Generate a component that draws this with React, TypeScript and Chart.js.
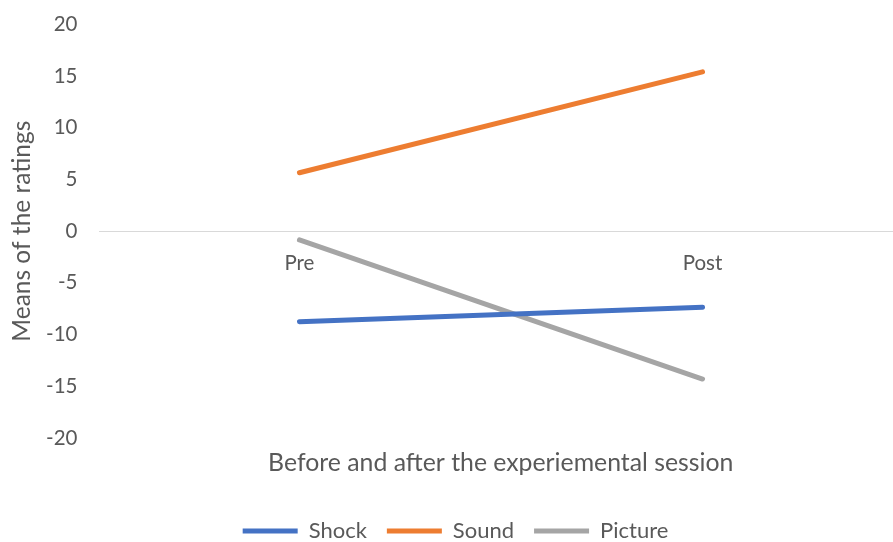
import React, { useEffect, useRef } from "react";
import { Chart, registerables } from "chart.js";

Chart.register(...registerables);

const categories = ["Pre", "Post"];
const shock = [-8.75, -7.35];
const sound = [5.65, 15.4];
const picture = [-0.85, -14.3];
const yTicks = [-20, -15, -10, -5, 0, 5, 10, 15, 20];
const xTitle = "Before and after the experiemental session";
const yTitle = "Means of the ratings";

const FONT = "Lato, 'Open Sans', sans-serif";
const TXT = "#595959";
const CW = 893;
const CH = 562;

const xTitlePlugin = {
  id: "xTitlePlugin",
  afterDraw(chart: any) {
    const { ctx, chartArea } = chart;
    ctx.save();
    ctx.font = `24.8px ${FONT}`;
    ctx.fillStyle = TXT;
    ctx.textAlign = "center";
    ctx.textBaseline = "middle";
    ctx.fillText(xTitle, (chartArea.left + chartArea.right) / 2 + 5, chartArea.bottom + 25);
    ctx.restore();
  },
};

export default function App() {
  const ref = useRef<HTMLCanvasElement | null>(null);
  useEffect(() => {
    if (!ref.current) return;
    const mk = (vals: number[]) => vals.map((v, i) => ({ x: i, y: v }));
    const ds = (label: string, vals: number[], color: string) => ({
      label,
      data: mk(vals),
      borderColor: color,
      backgroundColor: color,
      borderWidth: 5,
      borderCapStyle: "round",
      pointRadius: 0,
      tension: 0,
    });
    const chart = new Chart(ref.current, {
      type: "line",
      data: {
        datasets: [
          ds("Shock", shock, "#4472C4"),
          ds("Sound", sound, "#ED7D31"),
          ds("Picture", picture, "#A5A5A5"),
        ] as any,
      },
      plugins: [xTitlePlugin],
      options: {
        animation: false,
        responsive: false,
        maintainAspectRatio: false,
        layout: { padding: { top: 3, right: CW - 892, left: 19, bottom: 0 } },
        plugins: {
          tooltip: { enabled: false },
          legend: {
            position: "bottom",
            title: {
              display: true,
              text: " ",
              font: { size: 10, family: FONT },
              padding: { top: 0, bottom: 50 },
            },
            labels: {
              usePointStyle: true,
              pointStyle: "line",
              pointStyleWidth: 55,
              font: { size: 22, family: FONT },
              color: TXT,
              padding: 20,
            },
          },
        },
        scales: {
          x: {
            type: "linear",
            position: { y: 0 } as any,
            min: -0.496,
            max: 1.47,
            grid: { display: false, drawTicks: false },
            border: { display: true, color: "#D9D9D9", width: 1 },
            afterBuildTicks: (scale: any) => {
              scale.ticks = categories.map((_, i) => ({ value: i }));
            },
            ticks: {
              autoSkip: false,
              maxRotation: 0,
              padding: 19.5,
              font: { size: 20.5, family: FONT },
              color: TXT,
              callback: (v: any) => categories[v] ?? "",
            },
          },
          y: {
            min: -20,
            max: 20,
            afterBuildTicks: (scale: any) => {
              scale.ticks = yTicks.map((v) => ({ value: v }));
            },
            afterFit: (scale: any) => {
              scale.width = 80.5;
            },
            grid: { display: false, drawTicks: false },
            border: { display: false },
            ticks: {
              padding: 22,
              font: { size: 20.5, family: FONT },
              color: TXT,
            },
            title: {
              display: true,
              text: yTitle,
              font: { size: 24.5, family: FONT },
              color: TXT,
              padding: { top: -11.7, bottom: 0 },
            },
          },
        },
      } as any,
    });
    return () => chart.destroy();
  }, []);
  return (
    <div style={{ position: "fixed", left: 0, top: 0, width: 893, height: 542, overflow: "hidden", background: "#fff" }}>
      <canvas ref={ref} width={CW} height={CH} style={{ width: CW, height: CH, display: "block", marginTop: -10 }} />
    </div>
  );
}
